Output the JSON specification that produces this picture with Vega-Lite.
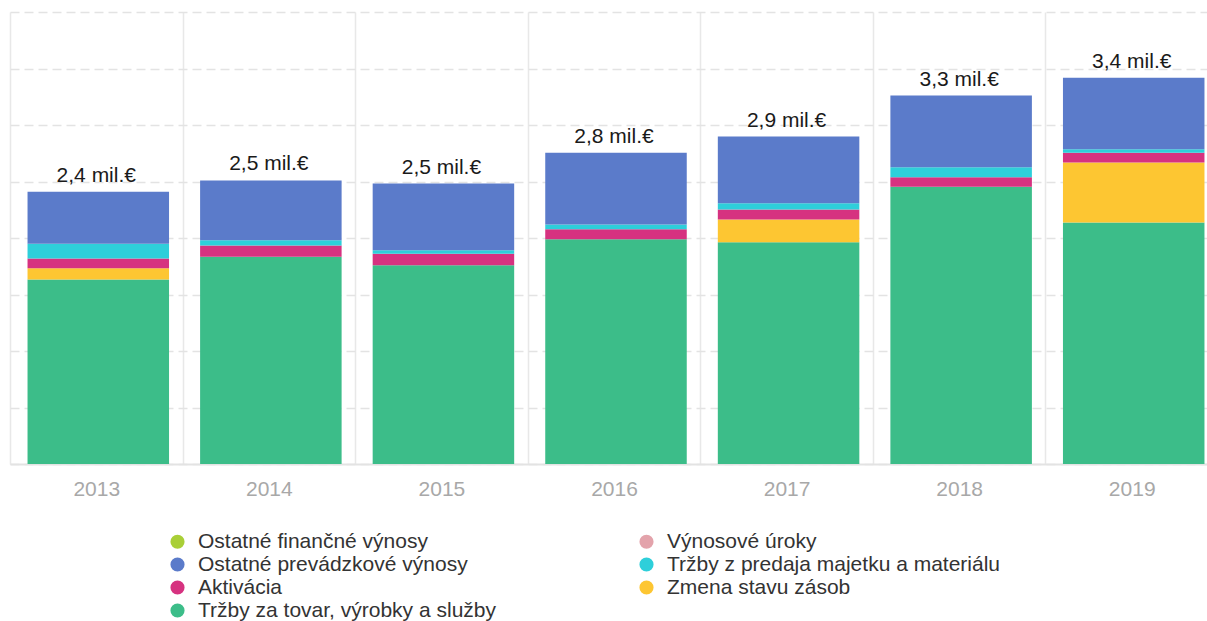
{
  "$schema": "https://vega.github.io/schema/vega-lite/v6.json",
  "width": 1208,
  "height": 452,
  "autosize": {"type": "none"},
  "padding": {"left": 10, "top": 12, "right": 0, "bottom": 157},
  "background": "#ffffff",
  "config": {
    "view": {"stroke": null},
    "font": "Liberation Sans"
  },
  "datasets": {
    "vynosy": [
      {"rok": "2013", "kategoria": "Tržby za tovar, výrobky a služby", "hodnota": 1.633, "poradie": 1},
      {"rok": "2013", "kategoria": "Zmena stavu zásob", "hodnota": 0.100, "poradie": 2},
      {"rok": "2013", "kategoria": "Aktivácia", "hodnota": 0.086, "poradie": 3},
      {"rok": "2013", "kategoria": "Tržby z predaja majetku a materiálu", "hodnota": 0.130, "poradie": 4},
      {"rok": "2013", "kategoria": "Výnosové úroky", "hodnota": 0, "poradie": 5},
      {"rok": "2013", "kategoria": "Ostatné prevádzkové výnosy", "hodnota": 0.460, "poradie": 6},
      {"rok": "2013", "kategoria": "Ostatné finančné výnosy", "hodnota": 0, "poradie": 7},
      {"rok": "2014", "kategoria": "Tržby za tovar, výrobky a služby", "hodnota": 1.834, "poradie": 1},
      {"rok": "2014", "kategoria": "Zmena stavu zásob", "hodnota": 0, "poradie": 2},
      {"rok": "2014", "kategoria": "Aktivácia", "hodnota": 0.100, "poradie": 3},
      {"rok": "2014", "kategoria": "Tržby z predaja majetku a materiálu", "hodnota": 0.047, "poradie": 4},
      {"rok": "2014", "kategoria": "Výnosové úroky", "hodnota": 0, "poradie": 5},
      {"rok": "2014", "kategoria": "Ostatné prevádzkové výnosy", "hodnota": 0.528, "poradie": 6},
      {"rok": "2014", "kategoria": "Ostatné finančné výnosy", "hodnota": 0, "poradie": 7},
      {"rok": "2015", "kategoria": "Tržby za tovar, výrobky a služby", "hodnota": 1.759, "poradie": 1},
      {"rok": "2015", "kategoria": "Zmena stavu zásob", "hodnota": 0, "poradie": 2},
      {"rok": "2015", "kategoria": "Aktivácia", "hodnota": 0.101, "poradie": 3},
      {"rok": "2015", "kategoria": "Tržby z predaja majetku a materiálu", "hodnota": 0.032, "poradie": 4},
      {"rok": "2015", "kategoria": "Výnosové úroky", "hodnota": 0, "poradie": 5},
      {"rok": "2015", "kategoria": "Ostatné prevádzkové výnosy", "hodnota": 0.590, "poradie": 6},
      {"rok": "2015", "kategoria": "Ostatné finančné výnosy", "hodnota": 0, "poradie": 7},
      {"rok": "2016", "kategoria": "Tržby za tovar, výrobky a služby", "hodnota": 1.989, "poradie": 1},
      {"rok": "2016", "kategoria": "Zmena stavu zásob", "hodnota": 0, "poradie": 2},
      {"rok": "2016", "kategoria": "Aktivácia", "hodnota": 0.088, "poradie": 3},
      {"rok": "2016", "kategoria": "Tržby z predaja majetku a materiálu", "hodnota": 0.042, "poradie": 4},
      {"rok": "2016", "kategoria": "Výnosové úroky", "hodnota": 0, "poradie": 5},
      {"rok": "2016", "kategoria": "Ostatné prevádzkové výnosy", "hodnota": 0.635, "poradie": 6},
      {"rok": "2016", "kategoria": "Ostatné finančné výnosy", "hodnota": 0, "poradie": 7},
      {"rok": "2017", "kategoria": "Tržby za tovar, výrobky a služby", "hodnota": 1.963, "poradie": 1},
      {"rok": "2017", "kategoria": "Zmena stavu zásob", "hodnota": 0.201, "poradie": 2},
      {"rok": "2017", "kategoria": "Aktivácia", "hodnota": 0.088, "poradie": 3},
      {"rok": "2017", "kategoria": "Tržby z predaja majetku a materiálu", "hodnota": 0.056, "poradie": 4},
      {"rok": "2017", "kategoria": "Výnosové úroky", "hodnota": 0, "poradie": 5},
      {"rok": "2017", "kategoria": "Ostatné prevádzkové výnosy", "hodnota": 0.590, "poradie": 6},
      {"rok": "2017", "kategoria": "Ostatné finančné výnosy", "hodnota": 0, "poradie": 7},
      {"rok": "2018", "kategoria": "Tržby za tovar, výrobky a služby", "hodnota": 2.453, "poradie": 1},
      {"rok": "2018", "kategoria": "Zmena stavu zásob", "hodnota": 0, "poradie": 2},
      {"rok": "2018", "kategoria": "Aktivácia", "hodnota": 0.085, "poradie": 3},
      {"rok": "2018", "kategoria": "Tržby z predaja majetku a materiálu", "hodnota": 0.088, "poradie": 4},
      {"rok": "2018", "kategoria": "Výnosové úroky", "hodnota": 0, "poradie": 5},
      {"rok": "2018", "kategoria": "Ostatné prevádzkové výnosy", "hodnota": 0.635, "poradie": 6},
      {"rok": "2018", "kategoria": "Ostatné finančné výnosy", "hodnota": 0, "poradie": 7},
      {"rok": "2019", "kategoria": "Tržby za tovar, výrobky a služby", "hodnota": 2.137, "poradie": 1},
      {"rok": "2019", "kategoria": "Zmena stavu zásob", "hodnota": 0.531, "poradie": 2},
      {"rok": "2019", "kategoria": "Aktivácia", "hodnota": 0.086, "poradie": 3},
      {"rok": "2019", "kategoria": "Tržby z predaja majetku a materiálu", "hodnota": 0.032, "poradie": 4},
      {"rok": "2019", "kategoria": "Výnosové úroky", "hodnota": 0, "poradie": 5},
      {"rok": "2019", "kategoria": "Ostatné prevádzkové výnosy", "hodnota": 0.632, "poradie": 6},
      {"rok": "2019", "kategoria": "Ostatné finančné výnosy", "hodnota": 0, "poradie": 7}
    ],
    "spolu": [
      {"rok": "2013", "spolu": 2.409, "popis": "2,4 mil.€"},
      {"rok": "2014", "spolu": 2.509, "popis": "2,5 mil.€"},
      {"rok": "2015", "spolu": 2.482, "popis": "2,5 mil.€"},
      {"rok": "2016", "spolu": 2.754, "popis": "2,8 mil.€"},
      {"rok": "2017", "spolu": 2.898, "popis": "2,9 mil.€"},
      {"rok": "2018", "spolu": 3.261, "popis": "3,3 mil.€"},
      {"rok": "2019", "spolu": 3.418, "popis": "3,4 mil.€"}
    ]
  },
  "encoding": {
    "x": {
      "field": "rok",
      "type": "nominal",
      "scale": {"paddingInner": 0, "paddingOuter": 0},
      "axis": {
        "title": null,
        "labelAngle": 0,
        "labelFontSize": 21,
        "labelColor": "#a8a8a8",
        "labelPadding": 14,
        "ticks": false,
        "domain": true,
        "domainColor": "#e3e3e3",
        "domainWidth": 2,
        "grid": true,
        "gridColor": "#e8e8e8",
        "gridWidth": 1.5,
        "tickBand": "extent"
      }
    }
  },
  "layer": [
    {
      "data": {"name": "vynosy"},
      "mark": {"type": "bar", "width": {"band": 0.82}, "xOffset": 2},
      "encoding": {
        "y": {
          "field": "hodnota",
          "type": "quantitative",
          "stack": "zero",
          "scale": {"domain": [0, 4], "nice": false},
          "axis": {
            "title": null,
            "labels": false,
            "ticks": false,
            "domain": false,
            "values": [0, 0.5, 1, 1.5, 2, 2.5, 3, 3.5, 4],
            "grid": true,
            "gridColor": "#e3e3e3",
            "gridWidth": 1.5,
            "gridDash": [9, 5]
          }
        },
        "order": {"field": "poradie", "type": "quantitative", "sort": "ascending"},
        "color": {
          "field": "kategoria",
          "type": "nominal",
          "scale": {
            "domain": [
              "Ostatné finančné výnosy",
              "Výnosové úroky",
              "Ostatné prevádzkové výnosy",
              "Tržby z predaja majetku a materiálu",
              "Aktivácia",
              "Zmena stavu zásob",
              "Tržby za tovar, výrobky a služby"
            ],
            "range": ["#a9cf37", "#e3a3ab", "#5b7bca", "#2ecfda", "#d63280", "#fdc632", "#3cbd89"]
          },
          "legend": {
            "title": null,
            "orient": "none",
            "legendX": 157,
            "legendY": 519,
            "direction": "horizontal",
            "columns": 2,
            "columnPadding": 140,
            "rowPadding": 1,
            "padding": 0,
            "symbolType": "circle",
            "symbolSize": 200,
            "symbolStrokeWidth": 0,
            "labelFontSize": 21,
            "labelColor": "#333333",
            "labelOffset": 10,
            "labelLimit": 0
          }
        }
      }
    },
    {
      "data": {"name": "spolu"},
      "mark": {"type": "text", "fontSize": 21, "color": "#1a1a1a", "baseline": "alphabetic", "dy": -10},
      "encoding": {
        "y": {"field": "spolu", "type": "quantitative"},
        "text": {"field": "popis", "type": "nominal"}
      }
    }
  ]
}
